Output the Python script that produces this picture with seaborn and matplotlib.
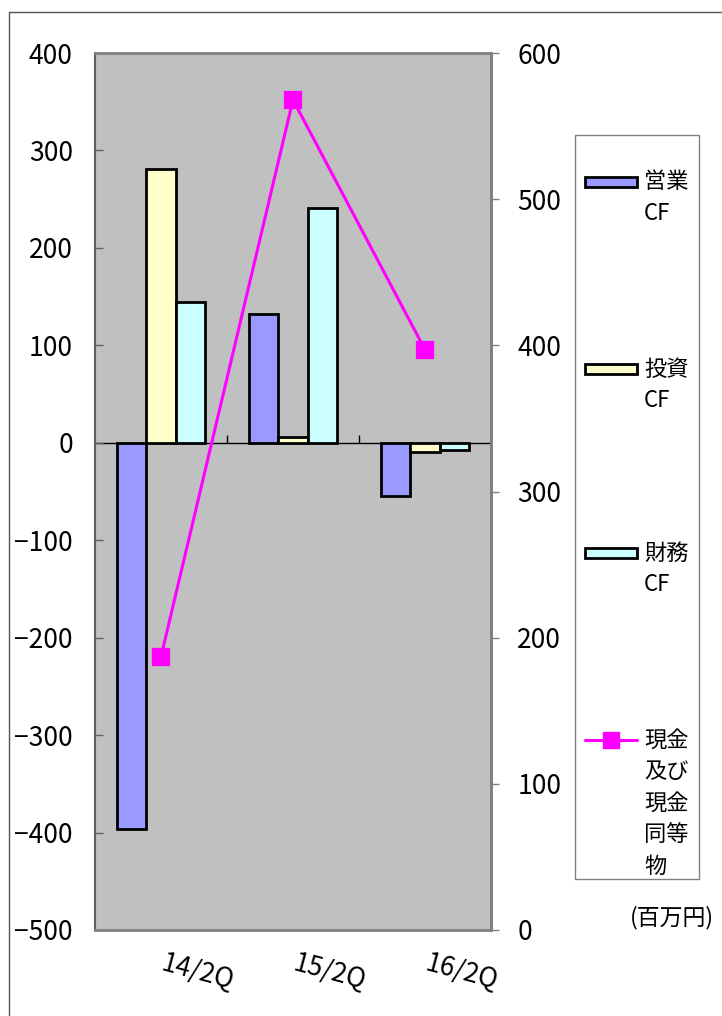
import textwrap

import numpy as np
import pandas as pd
import matplotlib
matplotlib.use("Agg")
import matplotlib.pyplot as plt
from matplotlib.lines import Line2D
from matplotlib.patches import Rectangle
from matplotlib.transforms import ScaledTranslation
import seaborn as sns

# ---- data -------------------------------------------------------------
quarters = ["14/2Q", "15/2Q", "16/2Q"]
flow_names = ["営業CF", "投資CF", "財務CF"]
operating_cf = [-396, 132, -55]
investing_cf = [281, 6, -9]
financing_cf = [144, 241, -7]
cash_name = "現金及び現金同等物"
cash_balance = [187, 568, 397]
unit_label = "(百万円)"

left_ticks = list(range(-500, 401, 100))
right_ticks = list(range(0, 601, 100))

# ---- style ------------------------------------------------------------
flow_colors = ["#9999FF", "#FFFFCC", "#CCFFFF"]
cash_color = "#FF00FF"
frame_gray = "#808080"

W, H, DPI = 722, 1016, 100

sns.set_theme(style="white")
plt.rcParams["font.family"] = ["Noto Sans CJK JP", "DejaVu Sans"]
plt.rcParams["axes.unicode_minus"] = True


def fig_xy(px, py):
    """Pixel position (from top-left) -> figure fraction."""
    return px / W, 1 - py / H


flows = pd.DataFrame(
    [(q, name, v)
     for name, vals in zip(flow_names, [operating_cf, investing_cf, financing_cf])
     for q, v in zip(quarters, vals)],
    columns=["quarter", "flow", "value"],
)

fig = plt.figure(figsize=(W / DPI, H / DPI), dpi=DPI)
fig.patch.set_facecolor("white")
ax = fig.add_axes([95 / W, 86 / H, 396 / W, 877 / H])
ax.set_facecolor("#C0C0C0")

sns.barplot(
    data=flows, x="quarter", y="value", hue="flow",
    order=quarters, hue_order=flow_names,
    palette=dict(zip(flow_names, flow_colors)), saturation=1,
    width=0.667, edgecolor="black", linewidth=2,
    errorbar=None, legend=False, ax=ax,
)
ax.set_xlim(-0.5, len(quarters) - 0.5)
ax.set_ylim(left_ticks[0], left_ticks[-1])
ax.set_yticks(left_ticks)
ax.set_xlabel("")
ax.set_ylabel("")

for side, sp in ax.spines.items():
    sp.set_visible(True)
    sp.set_color(frame_gray)
    sp.set_linewidth(2)
ax.spines["left"].set_color("#606060")
ax.spines["left"].set_linewidth(1.5)

ax.tick_params(axis="y", direction="in", length=6, width=1, color="#606060",
               labelsize=19, pad=16, labelcolor="black", left=True)
ax.tick_params(axis="x", length=0, labelsize=19, pad=14, labelcolor="black")
label_shift = ScaledTranslation(4 / DPI, 0, fig.dpi_scale_trans)
for tick in ax.xaxis.get_major_ticks():
    lbl = tick.label1
    lbl.set_rotation(-15)
    lbl.set_ha("left")
    lbl.set_rotation_mode("anchor")
    lbl.set_transform(lbl.get_transform() + label_shift)

# zero line with group separators
y0, y1 = ax.get_ylim()
zero_axis = ax.secondary_xaxis((0 - y0) / (y1 - y0))
zero_axis.set_xticks([0.5, 1.5], labels=["", ""])
zero_axis.tick_params(axis="x", which="both", direction="out", length=6,
                      width=1, color="black", labeltop=False, labelbottom=False)
for sp in zero_axis.spines.values():
    sp.set_color("black")
    sp.set_linewidth(1)

# cash balance on the right axis
ax2 = ax.twinx()
sns.pointplot(
    x=quarters, y=cash_balance, ax=ax2, color=cash_color,
    markers="s", markersize=11, linewidth=2.2, errorbar=None,
)
ax2.set_xlim(-0.5, len(quarters) - 0.5)
ax2.set_ylim(right_ticks[0], right_ticks[-1])
ax2.set_yticks(right_ticks)
ax2.set_xlabel("")
ax2.set_ylabel("")
for side, sp in ax2.spines.items():
    sp.set_visible(side == "right")
ax2.spines["right"].set_color(frame_gray)
ax2.spines["right"].set_linewidth(2)
ax2.tick_params(axis="y", direction="out", length=6, width=1, color=frame_gray,
                labelsize=19, pad=13, labelcolor="black", right=True)
ax2.tick_params(axis="x", length=0, labelbottom=False, labeltop=False)

# ---- legend box -------------------------------------------------------
lx0, ly0 = fig_xy(575, 879)
fig.add_artist(Rectangle((lx0, ly0), 124 / W, 744 / H, transform=fig.transFigure,
                         fill=False, edgecolor=frame_gray, linewidth=1))

entry_rows = [182, 369, 553, 740]
line_step = 31.5
labels = flow_names + [cash_name]
for i, (label, row) in enumerate(zip(labels, entry_rows)):
    if i < len(flow_names):
        hx, hy = fig_xy(585, row + 5)
        fig.add_artist(Rectangle((hx, hy), 52 / W, 10 / H, transform=fig.transFigure,
                                 facecolor=flow_colors[i], edgecolor="black",
                                 linewidth=2))
    else:
        xa, ya = fig_xy(585, row)
        xb, _ = fig_xy(637, row)
        xm, _ = fig_xy(611, row)
        fig.add_artist(Line2D([xa, xb], [ya, ya], transform=fig.transFigure,
                              color=cash_color, linewidth=2.2))
        fig.add_artist(Line2D([xm], [ya], transform=fig.transFigure, marker="s",
                              markersize=11, color=cash_color, linestyle="none"))
    for j, chunk in enumerate(textwrap.wrap(label, 2)):
        tx, ty = fig_xy(644, row + j * line_step)
        fig.text(tx, ty, chunk, ha="left", va="center", fontsize=16, color="black")

ux, uy = fig_xy(672, 918)
fig.text(ux, uy, unit_label, ha="center", va="center", fontsize=16.5, color="black")

# outer border
bx, by = fig_xy(9, 12)
fig.add_artist(Line2D([bx, 1.01], [by, by], transform=fig.transFigure,
                      color="#555555", linewidth=1))
fig.add_artist(Line2D([bx, bx], [by, -0.01], transform=fig.transFigure,
                      color="#555555", linewidth=1))

fig.savefig("out.png", dpi=DPI)
